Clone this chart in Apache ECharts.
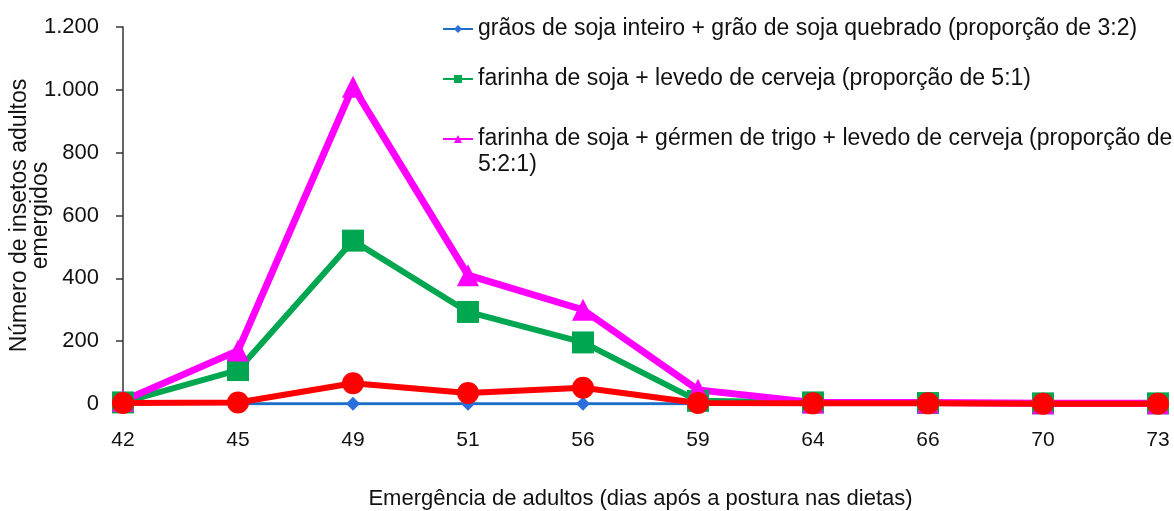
<!DOCTYPE html>
<html>
<head>
<meta charset="utf-8">
<script src="https://cdn.jsdelivr.net/npm/echarts@6/dist/echarts.min.js"></script>
<style>
  html, body { margin: 0; padding: 0; background: #fff; }
  #chart { width: 1174px; height: 511px; }
</style>
</head>
<body>
<div id="chart"></div>
<script>
// dias após a postura
const categories = ['42', '45', '49', '51', '56', '59', '64', '66', '70', '73']

const graosInteiroQuebrado = [1, 1, 1, 1, 1, 1, 1, 1, 1, 1]
const farinhaLevedo = [5, 108, 520, 293, 196, 10, 5, 3, 2, 2]
const farinhaGermenLevedo = [10, 170, 1010, 410, 300, 45, 5, 5, 2, 2]
const serieVermelha = [3, 5, 66, 35, 52, 3, 2, 2, 1, 1]

const yTicks = [0, 200, 400, 600, 800, 1000, 1200]

const seriesNames = [
  'grãos de soja inteiro + grão de soja quebrado (proporção de 3:2)',
  'farinha de soja + levedo de cerveja (proporção de 5:1)',
  'farinha de soja + gérmen de trigo + levedo de cerveja (proporção de 5:2:1)'
]

const fontFamily = 'Liberation Sans, Arial, sans-serif'

const chart = echarts.init(document.getElementById('chart'))

// one legend per item so the wrapped third entry can sit lower
const legendBase = {
  orient: 'vertical',
  left: 437,
  itemWidth: 30,
  itemHeight: 10,
  textStyle: { fontSize: 23, color: '#111', fontFamily, lineHeight: 26 }
}

chart.setOption({
  animation: false,
  textStyle: { fontFamily },
  grid: { left: 123, right: 16, top: 27, bottom: 107, outerBoundsMode: 'none' },
  legend: [
    Object.assign({}, legendBase, { data: [seriesNames[0]], top: 11 }),
    Object.assign({}, legendBase, { data: [seriesNames[1]], top: 61 }),
    Object.assign({}, legendBase, {
      data: [seriesNames[2]],
      top: 95,
      formatter: function () {
        return '\nfarinha de soja + gérmen de trigo + levedo de cerveja (proporção de\n5:2:1)'
      }
    })
  ],
  xAxis: {
    type: 'category',
    data: categories,
    boundaryGap: false,
    name: 'Emergência de adultos (dias após a postura nas dietas)',
    nameLocation: 'middle',
    nameGap: 84,
    nameTextStyle: { fontSize: 22, color: '#111' },
    axisLine: { show: false },
    axisTick: { show: false },
    axisLabel: { fontSize: 21, color: '#111', margin: 26 }
  },
  yAxis: {
    type: 'value',
    min: 0,
    max: 1200,
    interval: 200,
    name: 'Número de insetos adultos\nemergidos',
    nameLocation: 'middle',
    nameGap: 72,
    nameMoveOverlap: false,
    nameRotate: 90,
    nameTextStyle: { fontSize: 23, color: '#111', lineHeight: 21 },
    splitLine: { show: false },
    axisLine: { show: true, lineStyle: { color: '#333', width: 1.5 } },
    axisTick: { show: true, length: 7, lineStyle: { color: '#333', width: 1.5 } },
    axisLabel: {
      fontSize: 22,
      color: '#111',
      margin: 24,
      formatter: function (v) {
        return yTicks.indexOf(v) >= 0 ? String(v).replace(/\B(?=(\d{3})+(?!\d))/g, '.') : ''
      }
    }
  },
  series: [
    {
      name: seriesNames[0],
      type: 'line',
      data: graosInteiroQuebrado,
      symbol: 'diamond',
      symbolSize: 14,
      itemStyle: { color: '#2a6fdb' },
      lineStyle: { color: '#1a6fc4', width: 3 }
    },
    {
      name: seriesNames[1],
      type: 'line',
      data: farinhaLevedo,
      symbol: 'rect',
      symbolSize: 22,
      itemStyle: { color: '#00a650' },
      lineStyle: { color: '#00a650', width: 6 }
    },
    {
      name: seriesNames[2],
      type: 'line',
      data: farinhaGermenLevedo,
      symbol: 'triangle',
      symbolSize: 22,
      itemStyle: { color: '#ff00ff' },
      lineStyle: { color: '#ff00ff', width: 7 }
    },
    {
      name: 'serie4',
      type: 'line',
      data: serieVermelha,
      symbol: 'circle',
      symbolSize: 22,
      itemStyle: { color: '#ff0000' },
      lineStyle: { color: '#ff0000', width: 6 }
    }
  ]
})
</script>
</body>
</html>
